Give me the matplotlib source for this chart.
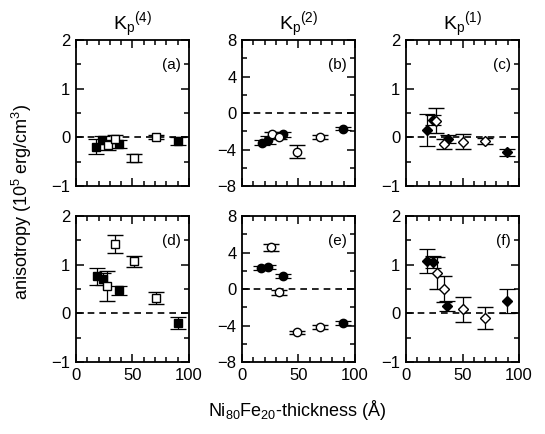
import matplotlib
matplotlib.use('Agg')
import matplotlib.pyplot as plt
from matplotlib.ticker import MultipleLocator

plt.rcParams['font.family'] = ['Liberation Sans', 'DejaVu Sans']
plt.rcParams['mathtext.default'] = 'regular'

# Data: thickness (A) and anisotropy (1e5 erg/cm^3)
# filled symbols = series 1, open symbols = series 2
a_fx = [18, 23, 38, 90]
a_fy = [-0.19, -0.06, -0.14, -0.07]
a_fe = [0.15, 0.08, 0.08, 0.08]
a_ox = [28, 34.5, 51, 70.5]
a_oy = [-0.15, -0.04, -0.43, 0.0]
a_oe = [0.1, 0.08, 0.08, 0.04]

b_fx = [17.5, 23, 36.5, 89]
b_fy = [-3.25, -2.95, -2.35, -1.7]
b_fe = [0.3, 0.4, 0.3, 0.2]
b_ox = [26.5, 32.5, 49, 69]
b_oy = [-2.35, -2.6, -4.25, -2.65]
b_oe = [0.3, 0.3, 0.7, 0.2]

c_fx = [18.5, 23.5, 37.5, 89.5]
c_fy = [0.15, 0.36, -0.04, -0.31]
c_fe = [0.32, 0.1, 0.08, 0.08]
c_ox = [26.5, 33.5, 50, 70]
c_oy = [0.34, -0.14, -0.09, -0.07]
c_oe = [0.26, 0.1, 0.15, 0.06]

d_fx = [19, 24, 38, 90.5]
d_fy = [0.76, 0.70, 0.47, -0.2]
d_fe = [0.18, 0.12, 0.09, 0.12]
d_ox = [27.5, 34.5, 51, 70.5]
d_oy = [0.56, 1.42, 1.07, 0.31]
d_oe = [0.3, 0.19, 0.11, 0.12]

e_fx = [16.5, 23, 36.5, 89]
e_fy = [2.27, 2.38, 1.42, -3.76]
e_fe = [0.2, 0.2, 0.2, 0.2]
e_ox = [25.5, 33, 49, 69]
e_oy = [4.57, -0.37, -4.75, -4.13]
e_oe = [0.4, 0.3, 0.2, 0.2]

f_fx = [19, 24, 36.5, 89]
f_fy = [1.07, 1.05, 0.15, 0.25]
f_fe = [0.25, 0.12, 0.1, 0.24]
f_ox = [27, 33.5, 50, 70]
f_oy = [0.83, 0.5, 0.08, -0.1]
f_oe = [0.33, 0.27, 0.26, 0.23]

titles = [r'K$_p$$^{(4)}$', r'K$_p$$^{(2)}$', r'K$_p$$^{(1)}$']

panels = [
    ('(a)', 's', (-1, 2), a_fx, a_fy, a_fe, a_ox, a_oy, a_oe),
    ('(b)', 'o', (-8, 8), b_fx, b_fy, b_fe, b_ox, b_oy, b_oe),
    ('(c)', 'D', (-1, 2), c_fx, c_fy, c_fe, c_ox, c_oy, c_oe),
    ('(d)', 's', (-1, 2), d_fx, d_fy, d_fe, d_ox, d_oy, d_oe),
    ('(e)', 'o', (-8, 8), e_fx, e_fy, e_fe, e_ox, e_oy, e_oe),
    ('(f)', 'D', (-1, 2), f_fx, f_fy, f_fe, f_ox, f_oy, f_oe),
]

fig = plt.figure(figsize=(5.45, 4.34), dpi=100)

lefts = [0.1394, 0.4440, 0.7450]
bottoms = [0.5714, 0.1659]
w, h = 0.2073, 0.3364

for i, (lab, mk, ylim, fx, fy, fe, ox, oy, oe) in enumerate(panels):
    row, col = divmod(i, 3)
    ax = fig.add_axes([lefts[col], bottoms[row], w, h])
    ax.axhline(0, color='black', ls=(0, (4, 3)), lw=1.2, zorder=1)

    ms = 6 if mk != 'D' else 5.5
    ax.errorbar(fx, fy, yerr=fe, fmt=mk, color='black', mfc='black', mec='black',
                ms=ms, elinewidth=0.9, capsize=5.5, capthick=0.9, zorder=3)
    ax.errorbar(ox, oy, yerr=oe, fmt=mk, color='black', mfc='white', mec='black',
                ms=ms, mew=1.0, elinewidth=0.9, capsize=5.5, capthick=0.9, zorder=4)

    ax.set_xlim(0, 100)
    ax.set_ylim(*ylim)
    ax.xaxis.set_major_locator(MultipleLocator(50))
    ax.xaxis.set_minor_locator(MultipleLocator(10))
    if ylim[1] == 8:
        ax.yaxis.set_major_locator(MultipleLocator(4))
        ax.yaxis.set_minor_locator(MultipleLocator(2))
    else:
        ax.yaxis.set_major_locator(MultipleLocator(1))
        ax.yaxis.set_minor_locator(MultipleLocator(0.5))
    ax.tick_params(which='both', direction='in', top=True, right=True,
                   labelsize=12, width=1.1)
    ax.tick_params(which='major', length=6, pad=4)
    ax.tick_params(which='minor', length=3.5)
    for s in ax.spines.values():
        s.set_linewidth(1.3)
    if row == 0:
        ax.tick_params(labelbottom=False)
        ax.set_title(titles[col], fontsize=14, pad=5)
    ax.text(0.93, 0.83, lab, transform=ax.transAxes, ha='right', va='center',
            fontsize=11)

fig.text(0.545, 0.055, r'Ni$_{80}$Fe$_{20}$-thickness (Å)', ha='center',
         va='center', fontsize=13)
fig.text(0.04, 0.535, r'anisotropy (10$^5$ erg/cm$^3$)', ha='center',
         va='center', rotation=90, fontsize=13)

fig.savefig('out.png', dpi=100)
